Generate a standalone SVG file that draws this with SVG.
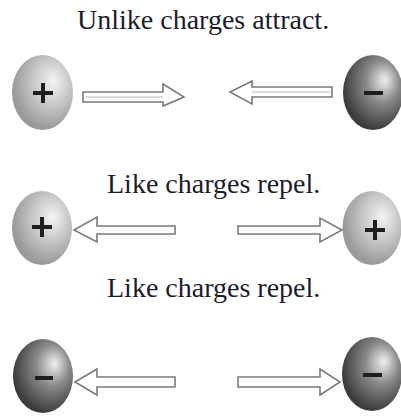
<svg xmlns="http://www.w3.org/2000/svg" width="401" height="417" viewBox="0 0 401 417">
<defs>
<radialGradient id="gPos" cx="0.62" cy="0.38" r="0.6" fx="0.68" fy="0.35">
<stop offset="0" stop-color="#f4f4f4"/>
<stop offset="0.55" stop-color="#c4c4c4"/>
<stop offset="1" stop-color="#9a9a9a"/>
</radialGradient>
<radialGradient id="gNeg" cx="0.62" cy="0.38" r="0.62" fx="0.7" fy="0.33">
<stop offset="0" stop-color="#f0f0f0"/>
<stop offset="0.45" stop-color="#8a8a8a"/>
<stop offset="1" stop-color="#3c3c3c"/>
</radialGradient>
</defs>
<style>
.t{font-family:"Liberation Serif","Times New Roman",serif;font-size:28px;fill:#1c1c2c}
.pos{fill:url(#gPos)}
.neg{fill:url(#gNeg)}
.sign{stroke:#1e1e1e;stroke-width:4;stroke-linecap:butt;fill:none}
.arr{fill:#ffffff;stroke:#7a7a7a;stroke-width:1.6;stroke-linejoin:miter}
.mid{stroke:#b8b8b8;stroke-width:1.2}
</style>
<rect width="401" height="417" fill="#ffffff"/>
<text class="t" x="77" y="29">Unlike charges attract.</text>
<text class="t" x="107" y="193">Like charges repel.</text>
<text class="t" x="107" y="297">Like charges repel.</text>

<g id="ball1"><ellipse class="pos" cx="42.5" cy="92.5" rx="30.5" ry="37.5"/><path class="sign" d="M33 93H53M43 83V103"/></g>
<g id="ball2"><ellipse class="neg" cx="373" cy="92.5" rx="30" ry="37.5"/><path class="sign" d="M364 93H383"/></g>
<g id="ball3"><ellipse class="pos" cx="42" cy="228" rx="30" ry="37"/><path class="sign" d="M32 227H52M42 217V237"/></g>
<g id="ball4"><ellipse class="pos" cx="372" cy="228" rx="29.5" ry="37"/><path class="sign" d="M365 230H385M375 220V240"/></g>
<g id="ball5"><ellipse class="neg" cx="43" cy="376" rx="30" ry="37"/><path class="sign" d="M35 378H53"/></g>
<g id="ball6"><ellipse class="neg" cx="372" cy="374" rx="30" ry="37"/><path class="sign" d="M363 375H382"/></g>

<g id="connectors">
<polygon class="arr" points="83,92 163,92 163,84 184,97 163,106 163,102 83,102"/>
<line class="mid" x1="85" y1="97" x2="163" y2="97"/>
<polygon class="arr" points="332,87 252,87 252,81 230,92 252,104 252,97 332,97"/>
<line class="mid" x1="252" y1="92" x2="330" y2="92"/>
<polygon class="arr" points="175,226 97,226 97,217 74,230 97,242 97,234 175,234"/>
<polygon class="arr" points="238,226 320,226 320,218 342,230 320,242 320,234 238,234"/>
<polygon class="arr" points="175,377 97,377 97,369 75,382 97,395 97,387 175,387"/>
<polygon class="arr" points="238,377 320,377 320,369 340,382 320,395 320,387 238,387"/>
</g>
</svg>
